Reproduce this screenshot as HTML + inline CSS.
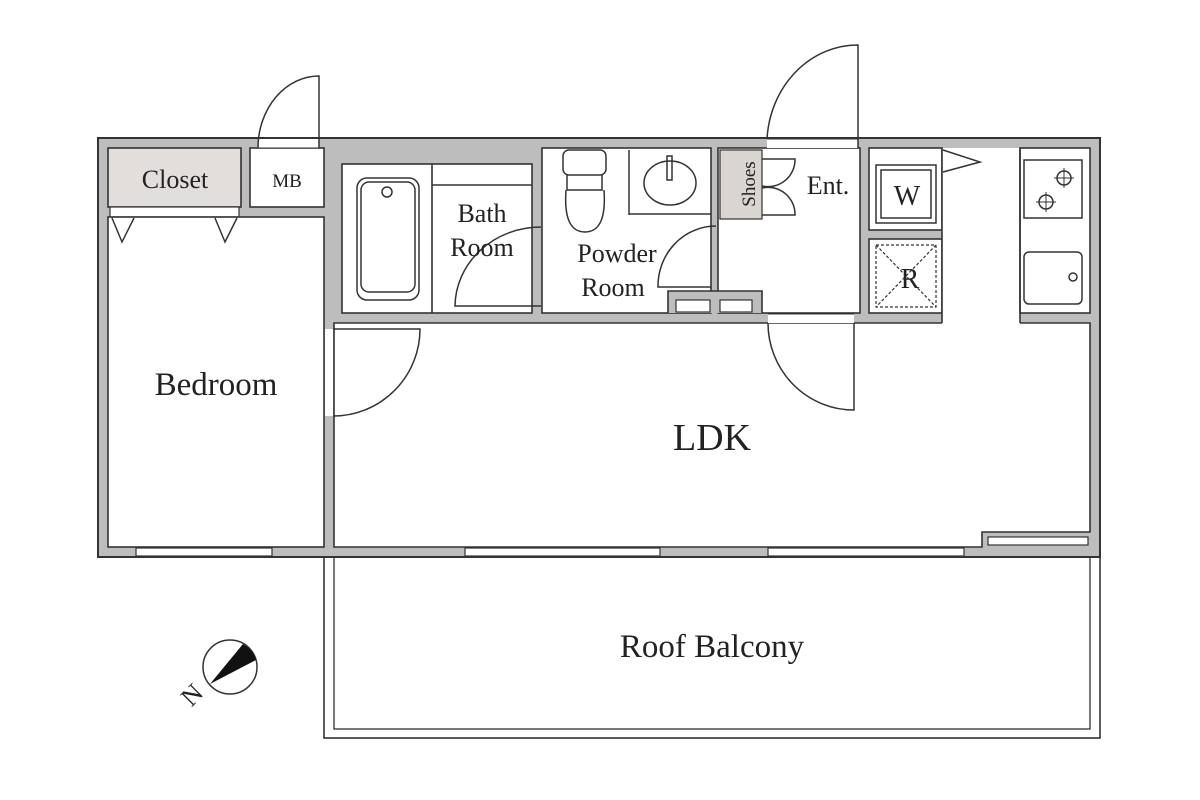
<!DOCTYPE html>
<html><head><meta charset="utf-8"><style>
html,body{margin:0;padding:0;background:#fff;width:1200px;height:800px;overflow:hidden}
svg text{font-family:"Liberation Serif",serif;fill:#222}
</style></head><body>
<svg width="1200" height="800" viewBox="0 0 1200 800" xmlns="http://www.w3.org/2000/svg">
<g stroke="#333" stroke-width="1.6">
<rect x="324" y="557" width="776" height="181" fill="#fff"/>
<rect x="334" y="557" width="756" height="172" fill="#fff" stroke-width="1.3"/>
<rect x="98" y="138" width="1002" height="419" fill="#bdbdbd" stroke-width="2"/>
<rect x="108" y="148" width="133" height="59" fill="#e2dedb"/>
<rect x="110" y="207" width="129" height="10" fill="#fff" stroke-width="1.2"/>
<rect x="108" y="217" width="216" height="330" fill="#fff"/>
<rect x="250" y="148" width="74" height="59" fill="#fff"/>
<rect x="342" y="164" width="190" height="149" fill="#fff"/>
<line x1="432" y1="164" x2="432" y2="313"/>
<line x1="432" y1="185" x2="532" y2="185"/>
<rect x="542" y="148" width="169" height="165" fill="#fff"/>
<rect x="718" y="148" width="142" height="165" fill="#fff"/>
<rect x="720" y="150" width="42" height="69" fill="#d9d6d2" stroke-width="1.2"/>
<rect x="869" y="148" width="73" height="82" fill="#fff"/>
<rect x="869" y="239" width="73" height="74" fill="#fff"/>
<rect x="942" y="148" width="78" height="175" fill="#fff" stroke="none"/>
<rect x="1020" y="148" width="70" height="165" fill="#fff"/>
<path d="M334 323 H1090 V532 H982 V547 H334 Z" fill="#fff"/>
<rect x="942" y="313" width="78" height="12" fill="#fff" stroke="none"/>
<line x1="942" y1="148" x2="942" y2="313"/>
<line x1="1020" y1="148" x2="1020" y2="313"/>
<line x1="942" y1="313" x2="942" y2="323"/>
<line x1="1020" y1="313" x2="1020" y2="323"/>
<path d="M668 313 V291 H762 V313" fill="#bdbdbd"/>
<rect x="676" y="300" width="34" height="12" fill="#fff" stroke-width="1.2"/>
<rect x="720" y="300" width="32" height="12" fill="#fff" stroke-width="1.2"/>
<rect x="988" y="537" width="100" height="8" fill="#fff" stroke-width="1.2"/>
<rect x="136" y="548" width="136" height="8" fill="#fff" stroke-width="1.2"/>
<rect x="465" y="548" width="195" height="8" fill="#fff" stroke-width="1.2"/>
<rect x="768" y="548" width="196" height="8" fill="#fff" stroke-width="1.2"/>
<rect x="258" y="139" width="61" height="9" fill="#fff" stroke="none"/>
<rect x="767" y="139" width="91" height="9" fill="#fff" stroke="none"/>
<rect x="768" y="314" width="86" height="9" fill="#fff" stroke="none"/>
<rect x="325" y="329" width="8" height="87" fill="#fff" stroke="none"/>
<line x1="258" y1="148" x2="319" y2="148" stroke-width="1"/>
<line x1="767" y1="139" x2="858" y2="139" stroke-width="1"/>
<line x1="768" y1="314" x2="854" y2="314" stroke-width="1"/>
</g>
<g fill="none" stroke="#333" stroke-width="1.5">
<path d="M319 148 V76 A61 72 0 0 0 258 148"/>
<path d="M858 148 V45 A91 100 0 0 0 767 139"/>
<path d="M854 323 V410 A86 87 0 0 1 768 323"/>
<path d="M333 329 H420 A87 87 0 0 1 333 416"/>
<path d="M541 306 H455 A86 80 0 0 1 541 227"/>
<path d="M711 287 H658 A58 60 0 0 1 716 226"/>
<path d="M762 159 H795 A27 27 0 0 1 762 186"/>
<path d="M762 215 H795 A27 27 0 0 0 762 188"/>
<path d="M112 218 L122 242 L134 218"/><path d="M215 218 L225 242 L237 218"/>
<rect x="357" y="178" width="62" height="122" rx="10"/>
<rect x="361" y="182" width="54" height="110" rx="8"/>
<circle cx="387" cy="192" r="5"/>
<rect x="563" y="150" width="43" height="25" rx="6"/>
<path d="M567 175 V190 H602 V175"/>
<path d="M566 190 Q563 232 585 232 Q607 232 604 190"/>
<line x1="629" y1="150" x2="629" y2="215"/>
<line x1="629" y1="214" x2="711" y2="214"/>
<ellipse cx="670" cy="183" rx="26" ry="22"/>
<rect x="667" y="156" width="5" height="24"/>
<rect x="876" y="165" width="60" height="58"/>
<rect x="881" y="170" width="50" height="48"/>
<rect x="876" y="245" width="60" height="62" stroke-dasharray="3 2" stroke-width="1.2"/>
<path d="M876 245 L936 307 M936 245 L876 307" stroke-dasharray="3 2" stroke-width="1.2"/>
<path d="M943 150 L980 162 L943 172" />
<rect x="1024" y="160" width="58" height="58"/>
<circle cx="1064" cy="178" r="7"/><circle cx="1046" cy="202" r="7"/>
<path d="M1064 168v20M1054 178h20M1046 192v20M1036 202h20" stroke-width="1"/>
<rect x="1024" y="252" width="58" height="52" rx="5"/>
<circle cx="1073" cy="277" r="4"/>
<circle cx="230" cy="667" r="27"/>
</g>
<path d="M210 684 L243 644 A27 27 0 0 1 256 660 Z" fill="#111"/>
<g font-size="26">
<text x="175" y="188" text-anchor="middle">Closet</text>
<text x="287" y="187" text-anchor="middle" font-size="19">MB</text>
<text x="482" y="222" text-anchor="middle">Bath</text>
<text x="482" y="256" text-anchor="middle">Room</text>
<text x="617" y="262" text-anchor="middle">Powder</text>
<text x="613" y="296" text-anchor="middle">Room</text>
<text x="828" y="194" text-anchor="middle">Ent.</text>
<text x="907" y="205" text-anchor="middle" font-size="28">W</text>
<text x="910" y="288" text-anchor="middle" font-size="28">R</text>
<text x="0" y="0" font-size="19" transform="translate(755 184) rotate(-90)" text-anchor="middle">Shoes</text>
<text x="216" y="395" text-anchor="middle" font-size="33">Bedroom</text>
<text x="712" y="450" text-anchor="middle" font-size="38">LDK</text>
<text x="712" y="657" text-anchor="middle" font-size="33">Roof Balcony</text>
<text x="0" y="0" font-size="26" transform="translate(198 701) rotate(-45)" text-anchor="middle">N</text>
</g>
</svg>
</body></html>
